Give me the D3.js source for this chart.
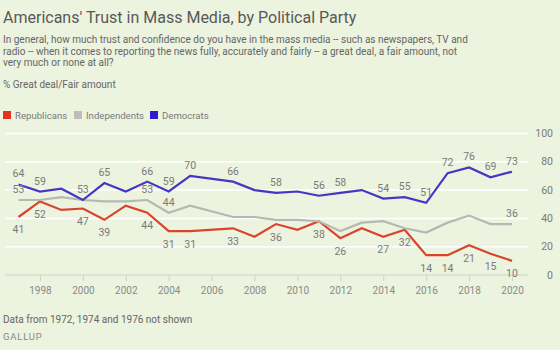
<!DOCTYPE html>
<html>
<head>
<meta charset="utf-8">
<script src="https://cdn.jsdelivr.net/npm/d3@7"></script>
<style>
  body { margin: 0; background: #ecf3de; }
  svg { display: block; font-family: Roboto, "Liberation Sans", sans-serif; }
  .sub { fill: #666; font-size: 10px; }
  .lbl { fill: #7a7a7a; font-size: 10.5px; }
</style>
</head>
<body>
<div id="chart"></div>
<script>
const years = [1997, 1998, 1999, 2000, 2001, 2002, 2003, 2004, 2005, 2007, 2008, 2009, 2010, 2011, 2012, 2013, 2014, 2015, 2016, 2017, 2018, 2019, 2020];
const republicans = [41, 52, 46, 47, 39, 49, 44, 31, 31, 33, 27, 36, 32, 38, 26, 33, 27, 32, 14, 14, 21, 15, 10];
const independents = [53, 53, 55, 53, 52, 52, 53, 44, 49, 41, 41, 39, 39, 38, 31, 37, 38, 33, 30, 37, 42, 36, 36];
const democrats = [64, 59, 61, 53, 65, 59, 66, 59, 70, 66, 60, 58, 59, 56, 58, 60, 54, 55, 51, 72, 76, 69, 73];
// which years get a value label
const repLabelled = [1997, 1998, 2000, 2001, 2003, 2004, 2005, 2007, 2009, 2011, 2012, 2014, 2015, 2016, 2017, 2018, 2019, 2020];
const indLabelled = [1997, 2003, 2004, 2020];
const demLabelled = [1997, 1998, 2000, 2001, 2003, 2004, 2005, 2007, 2009, 2011, 2012, 2014, 2015, 2016, 2017, 2018, 2019, 2020];
const yTicks = [0, 20, 40, 60, 80, 100];
const xTicks = [1998, 2000, 2002, 2004, 2006, 2008, 2010, 2012, 2014, 2016, 2018, 2020];

const W = 560, H = 350;
const svg = d3.select("#chart").append("svg").attr("width", W).attr("height", H);

svg.append("text").attr("x", 3).attr("y", 23).attr("fill", "#595959")
    .style("font-size", "16px").text("Americans' Trust in Mass Media, by Political Party");

const subLines = [
    "In general, how much trust and confidence do you have in the mass media -- such as newspapers, TV and",
    "radio -- when it comes to reporting the news fully, accurately and fairly -- a great deal, a fair amount, not",
    "very much or none at all?"
];
subLines.forEach((t, i) => svg.append("text").attr("class", "sub").attr("x", 3).attr("y", 43 + i * 11.5).text(t));
svg.append("text").attr("class", "sub").attr("x", 3).attr("y", 88).text("% Great deal/Fair amount");

const x = d3.scaleLinear().domain([1997, 2020]).range([18.5, 512]);
const y = d3.scaleLinear().domain([0, 100]).range([275, 133.5]);

// gridlines
svg.append("g").selectAll("line").data(yTicks.filter(d => d > 0)).enter().append("line")
    .attr("x1", 5).attr("x2", 528).attr("y1", d => y(d)).attr("y2", d => y(d))
    .attr("stroke", "#fff").attr("stroke-width", 1.5);

svg.append("g").selectAll("text").data(yTicks).enter().append("text")
    .attr("class", "lbl").attr("x", 553).attr("y", d => y(d) + 3.5).attr("text-anchor", "end")
    .attr("fill", "#8a8a8a").text(d => d);

// x axis
const xAxis = svg.append("g").attr("transform", `translate(0,${y(0)})`)
    .call(d3.axisBottom(x).tickValues(xTicks).tickFormat(d3.format("d")).tickSize(6).tickPadding(6));
xAxis.select(".domain").attr("d", "M5,0H528").attr("stroke", "#cfd3c8");
xAxis.selectAll(".tick line").attr("stroke", "#cfd3c8");
xAxis.selectAll(".tick text").attr("fill", "#8a8a8a").style("font-size", "10px").style("font-family", "Roboto, sans-serif");

const series = [
    {name: "Republicans", values: republicans, labelled: repLabelled, color: "#d9442c", dy: 16.5},
    {name: "Independents", values: independents, labelled: indLabelled, color: "#b6b9b2", dy: -7},
    {name: "Democrats", values: democrats, labelled: demLabelled, color: "#4636c4", dy: -7}
];

const line = d3.line().x(d => x(d.year)).y(d => y(d.value));

series.forEach(s => {
    const pts = years.map((yr, i) => ({year: yr, value: s.values[i]}));
    svg.append("path").datum(pts).attr("d", line).attr("fill", "none")
        .attr("stroke", s.color).attr("stroke-width", 2.2).attr("stroke-linejoin", "miter");
});

series.forEach(s => {
    const pts = years.map((yr, i) => ({year: yr, value: s.values[i]})).filter(d => s.labelled.includes(d.year));
    svg.append("g").selectAll("text").data(pts).enter().append("text")
        .attr("class", "lbl").attr("x", d => x(d.year)).attr("y", d => y(d.value) + s.dy)
        .attr("text-anchor", "middle").text(d => d.value);
});

// legend
const legendColors = ["#e3321e", "#bdbdbd", "#2e1ad0"];
const legendX = [3, 74, 150];
series.forEach((s, i) => {
    const g = svg.append("g").attr("transform", `translate(${legendX[i]},111)`);
    g.append("rect").attr("width", 8).attr("height", 8).attr("fill", legendColors[i]);
    g.append("text").attr("x", 12).attr("y", 7.5).attr("fill", "#7a7a7a")
        .style("font-size", "9.6px").text(s.name);
});

svg.append("text").attr("class", "sub").attr("x", 3).attr("y", 323).attr("fill", "#555").text("Data from 1972, 1974 and 1976 not shown");
svg.append("text").attr("x", 3).attr("y", 340).attr("fill", "#8a8a8a").style("font-size", "9.5px")
    .style("letter-spacing", "0.8px").text("GALLUP");
</script>
</body>
</html>
